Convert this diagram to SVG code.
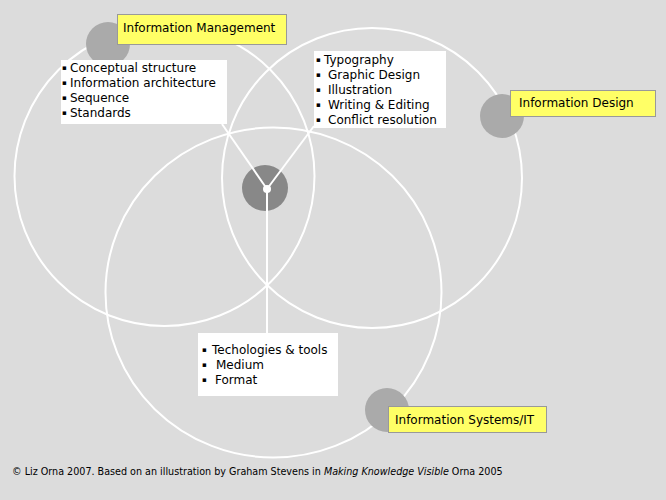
<svg xmlns="http://www.w3.org/2000/svg" width="666" height="500" viewBox="0 0 666 500">
<style>
.ring{fill:none;stroke:#fff;stroke-width:2}
.dot{fill:#aaaaaa}
.box{fill:#fff}
.lab{fill:#ffff66;stroke:#999;stroke-width:1}
text{font-family:"DejaVu Sans","Open Sans",sans-serif;font-size:12px;fill:#000}
.b{font-size:7px;baseline-shift:2.5px}
.conn{stroke:#fff;stroke-width:2;fill:none}
</style>
<rect width="666" height="500" fill="#dcdcdc"/>
<g id="circles">
<circle class="ring" cx="164.5" cy="176" r="150"/>
<circle class="ring" cx="372" cy="178" r="150"/>
<ellipse class="ring" cx="273.5" cy="292.5" rx="168" ry="165"/>
</g>
<g id="center">
<circle cx="265" cy="188" r="23" fill="#888"/>
</g>
<g id="connectors">
<line class="conn" x1="267" y1="189" x2="222" y2="124"/>
<line class="conn" x1="267" y1="189" x2="314" y2="126"/>
<line class="conn" x1="267" y1="189" x2="267" y2="333"/>
<circle cx="267" cy="189" r="4" fill="#fff"/>
</g>
<g id="im">
<circle class="dot" cx="108" cy="44" r="22"/>
<rect class="lab" x="117.5" y="14.5" width="169" height="30"/>
<text x="123" y="32">Information Management</text>
<rect class="box" x="61" y="60" width="166" height="64"/>
<text x="62" y="72"><tspan class="b">▪</tspan><tspan x="70">Conceptual structure</tspan></text>
<text x="62" y="87"><tspan class="b">▪</tspan><tspan x="70">Information architecture</tspan></text>
<text x="62" y="102"><tspan class="b">▪</tspan><tspan x="70">Sequence</tspan></text>
<text x="62" y="117"><tspan class="b">▪</tspan><tspan x="70">Standards</tspan></text>
</g>
<g id="id">
<circle class="dot" cx="502" cy="116" r="22"/>
<rect class="lab" x="510.5" y="90.5" width="145" height="26"/>
<text x="519" y="107">Information Design</text>
<rect class="box" x="314" y="51" width="132" height="77"/>
<text x="316" y="64"><tspan class="b">▪</tspan><tspan x="324">Typography</tspan></text>
<text x="316" y="79"><tspan class="b">▪</tspan><tspan x="328">Graphic Design</tspan></text>
<text x="316" y="94"><tspan class="b">▪</tspan><tspan x="328">Illustration</tspan></text>
<text x="316" y="109"><tspan class="b">▪</tspan><tspan x="328">Writing &amp; Editing</tspan></text>
<text x="316" y="124"><tspan class="b">▪</tspan><tspan x="328">Conflict resolution</tspan></text>
</g>
<g id="is">
<circle class="dot" cx="387" cy="410" r="22"/>
<rect class="lab" x="388.5" y="406.5" width="158" height="26"/>
<text x="395" y="424">Information Systems/IT</text>
<rect class="box" x="198" y="333" width="140" height="63"/>
<text x="202" y="354"><tspan class="b">▪</tspan><tspan x="212">Techologies &amp; tools</tspan></text>
<text x="202" y="369"><tspan class="b">▪</tspan><tspan x="216">Medium</tspan></text>
<text x="202" y="384"><tspan class="b">▪</tspan><tspan x="215">Format</tspan></text>
</g>
<text x="12" y="475" style="font-size:9.6px">© Liz Orna 2007. Based on an illustration by Graham Stevens in <tspan font-style="italic">Making Knowledge Visible</tspan> Orna 2005</text>
</svg>
